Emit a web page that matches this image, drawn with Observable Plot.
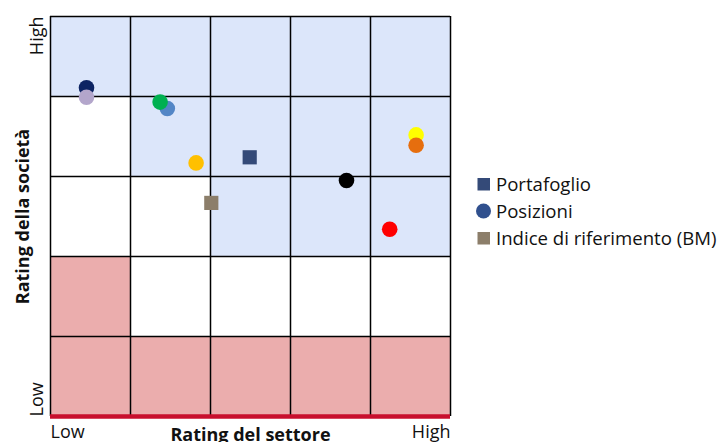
<!DOCTYPE html>
<html>
<head>
<meta charset="utf-8">
<script src="https://cdn.jsdelivr.net/npm/d3@7"></script>
<script src="https://cdn.jsdelivr.net/npm/@observablehq/plot@0.6"></script>
<style>
  html, body { margin: 0; padding: 0; background: #fff; }
  #wrap { position: relative; width: 718px; height: 442px; overflow: hidden; font-family: "Open Sans", sans-serif; }
  #legend { position: absolute; left: 476px; top: 170px; font-size: 18.6px; color: #111; }
  .row { display: flex; align-items: center; height: 27px; white-space: nowrap; }
  .row svg { margin-right: 4px; }
</style>
</head>
<body>
<div id="wrap"><div id="chart"></div><div id="legend"></div></div>
<script>
// ---- data ----
// zone of each cell, rows listed from top (High) to bottom (Low), columns Low -> High
const zoneRows = [
  ["blue","blue","blue","blue","blue"],
  ["white","blue","blue","blue","blue"],
  ["white","white","blue","blue","blue"],
  ["pink","white","white","white","white"],
  ["pink","pink","pink","pink","pink"]
];
const zoneColors = { blue: "#dce6fa", white: "#ffffff", pink: "#ebadad" };
const gridTicks = [0, 1, 2, 3, 4, 5];

// positions (holdings): sector rating (x), company rating (y), colour — in draw order
const posX = [0.45, 0.45, 1.46, 1.37, 1.82, 3.70, 4.57, 4.57, 4.24];
const posY = [4.11, 3.99, 3.85, 3.93, 3.17, 2.95, 3.52, 3.39, 2.34];
const posColor = ["#0d2463", "#b3a6cb", "#5386c6", "#00b050", "#ffc000", "#000000", "#ffff00", "#e66e0e", "#ff0000"];

const portfolio = { x: 2.49, y: 3.24 };
const benchmark = { x: 2.01, y: 2.67 };

const xTickLabels = [{ value: 0, label: "Low" }, { value: 5, label: "High" }];
const yTickLabels = [{ value: 0, label: "Low" }, { value: 5, label: "High" }];
const xTitle = "Rating del settore";
const yTitle = "Rating della società";

const legendItems = [
  { label: "Portafoglio", symbol: "square", color: "#344a78" },
  { label: "Posizioni", symbol: "circle", color: "#30508e" },
  { label: "Indice di riferimento (BM)", symbol: "square", color: "#8c7e6a" }
];

// ---- build tables ----
const cells = [];
zoneRows.forEach((row, r) => row.forEach((z, c) => {
  cells.push({ col: c, row: zoneRows.length - 1 - r, zone: z });
}));
const positions = posX.map((x, i) => ({ x, y: posY[i], color: posColor[i] }));

const chart = Plot.plot({
  width: 718,
  height: 442,
  marginLeft: 50,
  marginRight: 268,
  marginTop: 16,
  marginBottom: 26,
  style: { fontFamily: "Open Sans, sans-serif", fontSize: "18px", color: "#111", background: "white" },
  x: { domain: [0, 5], axis: null },
  y: { domain: [0, 5], axis: null },
  marks: [
    Plot.rect(cells, { x1: "col", x2: d => d.col + 1, y1: "row", y2: d => d.row + 1, fill: d => zoneColors[d.zone] }),
    Plot.ruleX(gridTicks, { stroke: "black", strokeWidth: 1.5 }),
    Plot.ruleY(gridTicks, { stroke: "black", strokeWidth: 1.5 }),
    Plot.ruleY([0], { stroke: "#c8102e", strokeWidth: 4.5 }),
    Plot.dot(positions, { x: "x", y: "y", r: 7.8, fill: d => d.color, stroke: null }),
    Plot.dot([portfolio], { x: "x", y: "y", r: 8, symbol: "square", fill: "#344a78" }),
    Plot.dot([benchmark], { x: "x", y: "y", r: 8, symbol: "square", fill: "#8c7e6a" }),
    // x tick labels
    Plot.text(xTickLabels.slice(0, 1), { x: "value", text: "label", frameAnchor: "bottom", textAnchor: "start", lineAnchor: "middle", dy: 16, fontSize: 18 }),
    Plot.text(xTickLabels.slice(1), { x: "value", text: "label", frameAnchor: "bottom", textAnchor: "end", lineAnchor: "middle", dy: 16, fontSize: 18 }),
    // y tick labels (rotated)
    Plot.text(yTickLabels.slice(0, 1), { y: "value", text: "label", frameAnchor: "left", rotate: -90, textAnchor: "start", lineAnchor: "middle", dx: -13, fontSize: 18 }),
    Plot.text(yTickLabels.slice(1), { y: "value", text: "label", frameAnchor: "left", rotate: -90, textAnchor: "end", lineAnchor: "middle", dx: -13, fontSize: 18 }),
    // titles
    Plot.text([xTitle], { text: d => d, frameAnchor: "bottom", textAnchor: "middle", lineAnchor: "middle", dy: 19, fontSize: 18, fontWeight: "bold" }),
    Plot.text([yTitle], { text: d => d, frameAnchor: "left", rotate: -90, textAnchor: "middle", lineAnchor: "middle", dx: -27, fontSize: 18, fontWeight: "bold" })
  ]
});
document.getElementById("chart").appendChild(chart);

// ---- legend ----
const legend = d3.select("#legend");
legendItems.forEach(item => {
  const row = legend.append("div").attr("class", "row");
  const s = row.append("svg").attr("width", 16).attr("height", 16);
  if (item.symbol === "square") {
    s.append("rect").attr("x", 1.5).attr("y", 2).attr("width", 12.5).attr("height", 12.5).attr("fill", item.color);
  } else {
    s.append("circle").attr("cx", 7.5).attr("cy", 8).attr("r", 7.5).attr("fill", item.color);
  }
  row.append("span").text(item.label);
});
</script>
</body>
</html>
